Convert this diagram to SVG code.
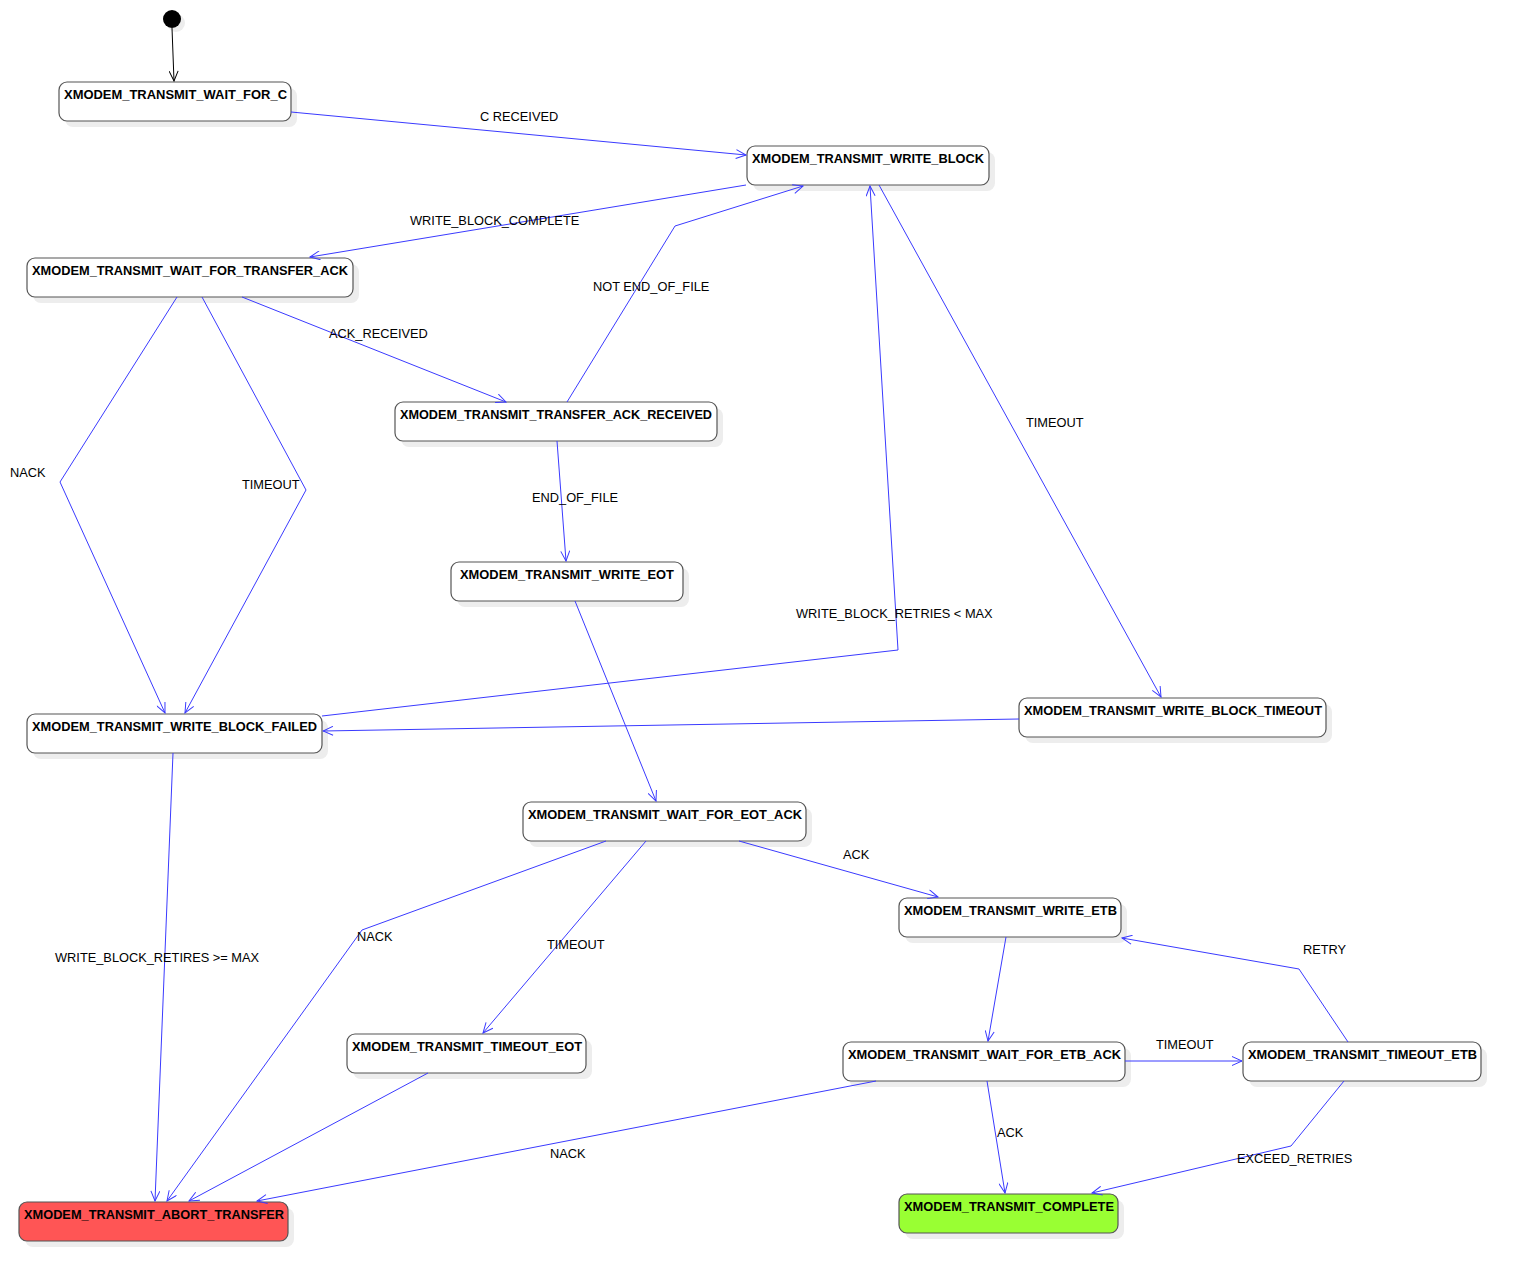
<svg xmlns="http://www.w3.org/2000/svg" width="1521" height="1281" viewBox="0 0 1521 1281">
<style>
.sh{fill:#ededed;stroke:none}
.box{fill:#ffffff;stroke:#555555;stroke-width:1.2}
.abort{fill:#ff5555}
.done{fill:#99ff33}
.nt{font-family:"Liberation Sans",Arial,sans-serif;font-weight:bold;font-size:13px;fill:#000}
.lb{font-family:"Liberation Sans",Arial,sans-serif;font-size:12.8px;fill:#000}
.e{fill:none;stroke:#3a3aff;stroke-width:1}
.ei{fill:none;stroke:#000;stroke-width:1}
</style>
<defs>
<marker id="a" markerUnits="userSpaceOnUse" markerWidth="12" markerHeight="10" refX="11" refY="5" orient="auto">
<path d="M1,0.5 L11,5 L1,9.5" fill="none" stroke="#3a3aff" stroke-width="1"/>
</marker>
<marker id="ak" markerUnits="userSpaceOnUse" markerWidth="12" markerHeight="10" refX="11" refY="5" orient="auto">
<path d="M1,0.5 L11,5 L1,9.5" fill="none" stroke="#000" stroke-width="1"/>
</marker>
</defs>
<rect width="1521" height="1281" fill="#fff"/>

<g id="initial">
<circle cx="176" cy="23" r="9" fill="#ededed"/>
<circle cx="172" cy="19" r="9" fill="#000"/>
</g>

<g id="wait_for_c">
<rect class="sh" x="65" y="88" width="232" height="39" rx="8"/>
<rect class="box" x="59" y="82" width="232" height="39" rx="8"/>
<text class="nt" x="64" y="99" textLength="223" lengthAdjust="spacingAndGlyphs">XMODEM_TRANSMIT_WAIT_FOR_C</text>
</g>
<g id="write_block">
<rect class="sh" x="753" y="152" width="242" height="39" rx="8"/>
<rect class="box" x="747" y="146" width="242" height="39" rx="8"/>
<text class="nt" x="752" y="163" textLength="232" lengthAdjust="spacingAndGlyphs">XMODEM_TRANSMIT_WRITE_BLOCK</text>
</g>
<g id="wait_for_transfer_ack">
<rect class="sh" x="33" y="264" width="326" height="39" rx="8"/>
<rect class="box" x="27" y="258" width="326" height="39" rx="8"/>
<text class="nt" x="32" y="275" textLength="316" lengthAdjust="spacingAndGlyphs">XMODEM_TRANSMIT_WAIT_FOR_TRANSFER_ACK</text>
</g>
<g id="transfer_ack_received">
<rect class="sh" x="401" y="408" width="322" height="39" rx="8"/>
<rect class="box" x="395" y="402" width="322" height="39" rx="8"/>
<text class="nt" x="400" y="419" textLength="312" lengthAdjust="spacingAndGlyphs">XMODEM_TRANSMIT_TRANSFER_ACK_RECEIVED</text>
</g>
<g id="write_eot">
<rect class="sh" x="457" y="568" width="232" height="39" rx="8"/>
<rect class="box" x="451" y="562" width="232" height="39" rx="8"/>
<text class="nt" x="460" y="579" textLength="214" lengthAdjust="spacingAndGlyphs">XMODEM_TRANSMIT_WRITE_EOT</text>
</g>
<g id="write_block_failed">
<rect class="sh" x="33" y="720" width="295" height="39" rx="8"/>
<rect class="box" x="27" y="714" width="295" height="39" rx="8"/>
<text class="nt" x="32" y="731" textLength="285" lengthAdjust="spacingAndGlyphs">XMODEM_TRANSMIT_WRITE_BLOCK_FAILED</text>
</g>
<g id="write_block_timeout">
<rect class="sh" x="1025" y="704" width="307" height="39" rx="8"/>
<rect class="box" x="1019" y="698" width="307" height="39" rx="8"/>
<text class="nt" x="1024" y="715" textLength="298" lengthAdjust="spacingAndGlyphs">XMODEM_TRANSMIT_WRITE_BLOCK_TIMEOUT</text>
</g>
<g id="wait_for_eot_ack">
<rect class="sh" x="529" y="808" width="283" height="39" rx="8"/>
<rect class="box" x="523" y="802" width="283" height="39" rx="8"/>
<text class="nt" x="528" y="819" textLength="274" lengthAdjust="spacingAndGlyphs">XMODEM_TRANSMIT_WAIT_FOR_EOT_ACK</text>
</g>
<g id="write_etb">
<rect class="sh" x="905" y="904" width="222" height="39" rx="8"/>
<rect class="box" x="899" y="898" width="222" height="39" rx="8"/>
<text class="nt" x="904" y="915" textLength="213" lengthAdjust="spacingAndGlyphs">XMODEM_TRANSMIT_WRITE_ETB</text>
</g>
<g id="timeout_eot">
<rect class="sh" x="353" y="1040" width="239" height="39" rx="8"/>
<rect class="box" x="347" y="1034" width="239" height="39" rx="8"/>
<text class="nt" x="352" y="1051" textLength="230" lengthAdjust="spacingAndGlyphs">XMODEM_TRANSMIT_TIMEOUT_EOT</text>
</g>
<g id="wait_for_etb_ack">
<rect class="sh" x="849" y="1048" width="282" height="39" rx="8"/>
<rect class="box" x="843" y="1042" width="282" height="39" rx="8"/>
<text class="nt" x="848" y="1059" textLength="273" lengthAdjust="spacingAndGlyphs">XMODEM_TRANSMIT_WAIT_FOR_ETB_ACK</text>
</g>
<g id="timeout_etb">
<rect class="sh" x="1249" y="1048" width="238" height="39" rx="8"/>
<rect class="box" x="1243" y="1042" width="238" height="39" rx="8"/>
<text class="nt" x="1248" y="1059" textLength="229" lengthAdjust="spacingAndGlyphs">XMODEM_TRANSMIT_TIMEOUT_ETB</text>
</g>
<g id="abort_transfer">
<rect class="sh" x="25" y="1208" width="269" height="39" rx="8"/>
<rect class="box abort" x="19" y="1202" width="269" height="39" rx="8"/>
<text class="nt" x="24" y="1219" textLength="260" lengthAdjust="spacingAndGlyphs">XMODEM_TRANSMIT_ABORT_TRANSFER</text>
</g>
<g id="complete">
<rect class="sh" x="905" y="1200" width="219" height="39" rx="8"/>
<rect class="box done" x="899" y="1194" width="219" height="39" rx="8"/>
<text class="nt" x="904" y="1211" textLength="210" lengthAdjust="spacingAndGlyphs">XMODEM_TRANSMIT_COMPLETE</text>
</g>

<g id="connectors">
<path class="ei" d="M172,28 L174,81" marker-end="url(#ak)"/>
<path class="e" d="M291,112 L746,155" marker-end="url(#a)"/>
<path class="e" d="M746,185 L310,257" marker-end="url(#a)"/>
<path class="e" d="M567,402 L675,226 L803,186" marker-end="url(#a)"/>
<path class="e" d="M242,297 L506,402" marker-end="url(#a)"/>
<path class="e" d="M177,297 L60,482 L165,713" marker-end="url(#a)"/>
<path class="e" d="M202,297 L306,490 L185,713" marker-end="url(#a)"/>
<path class="e" d="M557,441 L566,561" marker-end="url(#a)"/>
<path class="e" d="M322,716 L898,650 L870,186" marker-end="url(#a)"/>
<path class="e" d="M879,185 L1161,697" marker-end="url(#a)"/>
<path class="e" d="M1019,719 L323,731" marker-end="url(#a)"/>
<path class="e" d="M575,601 L656,801" marker-end="url(#a)"/>
<path class="e" d="M173,753 L155,1201" marker-end="url(#a)"/>
<path class="e" d="M606,841 L362,930 L167,1201" marker-end="url(#a)"/>
<path class="e" d="M646,841 L483,1033" marker-end="url(#a)"/>
<path class="e" d="M739,841 L938,897" marker-end="url(#a)"/>
<path class="e" d="M428,1073 L189,1201" marker-end="url(#a)"/>
<path class="e" d="M1006,937 L988,1041" marker-end="url(#a)"/>
<path class="e" d="M1125,1061 L1242,1061" marker-end="url(#a)"/>
<path class="e" d="M1348,1042 L1299,969 L1122,938" marker-end="url(#a)"/>
<path class="e" d="M876,1081 L257,1201" marker-end="url(#a)"/>
<path class="e" d="M987,1081 L1005,1193" marker-end="url(#a)"/>
<path class="e" d="M1344,1081 L1291,1146 L1092,1193" marker-end="url(#a)"/>
</g>

<g id="labels">
<text class="lb" x="480" y="121">C RECEIVED</text>
<text class="lb" x="410" y="225">WRITE_BLOCK_COMPLETE</text>
<text class="lb" x="593" y="291">NOT END_OF_FILE</text>
<text class="lb" x="329" y="338">ACK_RECEIVED</text>
<text class="lb" x="10" y="477">NACK</text>
<text class="lb" x="242" y="489">TIMEOUT</text>
<text class="lb" x="532" y="502">END_OF_FILE</text>
<text class="lb" x="796" y="618">WRITE_BLOCK_RETRIES &lt; MAX</text>
<text class="lb" x="1026" y="427">TIMEOUT</text>
<text class="lb" x="55" y="962">WRITE_BLOCK_RETIRES &gt;= MAX</text>
<text class="lb" x="357" y="941">NACK</text>
<text class="lb" x="547" y="949">TIMEOUT</text>
<text class="lb" x="843" y="859">ACK</text>
<text class="lb" x="1303" y="954">RETRY</text>
<text class="lb" x="1156" y="1049">TIMEOUT</text>
<text class="lb" x="550" y="1158">NACK</text>
<text class="lb" x="997" y="1137">ACK</text>
<text class="lb" x="1237" y="1163">EXCEED_RETRIES</text>
</g>
</svg>
